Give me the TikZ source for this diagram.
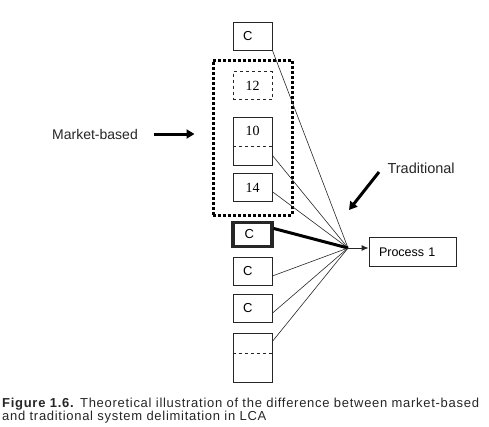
\documentclass[tikz,border=0pt]{standalone}
\usepackage{fontspec}
\setmainfont{Liberation Sans}
\newfontfamily\numfont{Liberation Serif}
\newfontfamily\capfont[LetterSpace=5.5]{Liberation Sans}
\usetikzlibrary{arrows.meta}

\tikzset{
	cell/.style={draw=black!85,line width=0.9pt,minimum width=39pt,minimum height=28pt,inner sep=0pt,font=\fontsize{13}{13}\selectfont},
	ccell/.style={cell,text width=19pt,inner xsep=10pt,align=left},
	numcell/.style={cell,font=\numfont\fontsize{14}{14}\selectfont},
	feed/.style={black!85,line width=0.6pt},
	bigarrow/.style={line width=3pt,-{Triangle[length=8pt,width=9pt]}}
}

\begin{document}
\begin{tikzpicture}[x=1pt,y=-1pt]
			\useasboundingbox (0,0) rectangle (489,426);
			
			\node[draw,line width=3pt,dash pattern=on 3pt off 2pt,minimum width=79pt,minimum height=155pt] (market) at (252.5,137.5) {};
			
			\node[ccell] (ctop) at (252.5,36) {C};
			\node[numcell,dashed] (n12) at (252.5,85.5) {12};
			\node[cell,minimum height=48pt] (n10) at (252.5,141) {};
			\node[font=\numfont\fontsize{14}{14}\selectfont] (n10text) at (252.5,131) {10};
			\draw[black!85,line width=0.9pt,dashed] (n10.west |- 0,146) -- (n10.east |- 0,146);
			\node[numcell] (n14) at (252.5,187.5) {14};
			\node[ccell,line width=3.2pt,text width=16pt,inner xsep=8.5pt,minimum height=24.5pt] (cbold) at (252.5,234.5) {C};
			\foreach \name/\y in {c2/271,c3/308.5} {
				\node[ccell] (\name) at (252.5,\y) {C};
			}
			\node[cell,minimum height=49pt] (last) at (252.5,357.5) {};
			\draw[black!85,line width=0.9pt,dashed] (last.west |- 0,353) -- (last.east |- 0,353);
			
			\coordinate (hub) at (348,248);
			\node[cell,minimum width=87pt,minimum height=29pt,text width=67pt,inner xsep=10pt,align=left,font=\fontsize{12.5}{12.5}\selectfont] (proc) at (412.5,252) {Process 1};
			
			\draw[feed] (ctop.south east) -- (hub);
			\draw[feed] (n10.-36) -- (hub);
			\draw[feed] (n14.-12) -- (hub);
			\draw[line width=3pt] (cbold.16) -- (hub);
			\draw[feed] (c2.-14) -- (hub);
			\draw[feed] (c3.-13) -- (hub);
			\draw[feed] (last.39) -- (hub);
			\draw[feed,line width=0.9pt,-{Latex[length=7pt,width=6pt]}] (hub) -- (proc.west |- hub);
			
			\node[font=\fontsize{14}{14}\selectfont,text=black!85] (mlabel) at (95,134) {Market-based};
			\draw[bigarrow,shorten <=13pt,shorten >=17pt] (mlabel.east) -- (mlabel.east -| market.west);
			
			\node[anchor=west,font=\fontsize{14.5}{14.5}\selectfont,text=black!85] (tlabel) at (384,168) {Traditional};
			\coordinate (ttip) at (349,210);
			\draw[bigarrow] ([xshift=-5pt,yshift=-4pt]tlabel.west) -- (ttip);
			
			\node[anchor=north west,align=left,inner sep=0pt,font=\capfont\fontsize{13}{11.5}\selectfont,text=black!85] (caption) at (2,397.5) {\textbf{Figure 1.6.} Theoretical illustration of the difference between market-based\\and traditional system delimitation in LCA};
		\end{tikzpicture}
\end{document}
